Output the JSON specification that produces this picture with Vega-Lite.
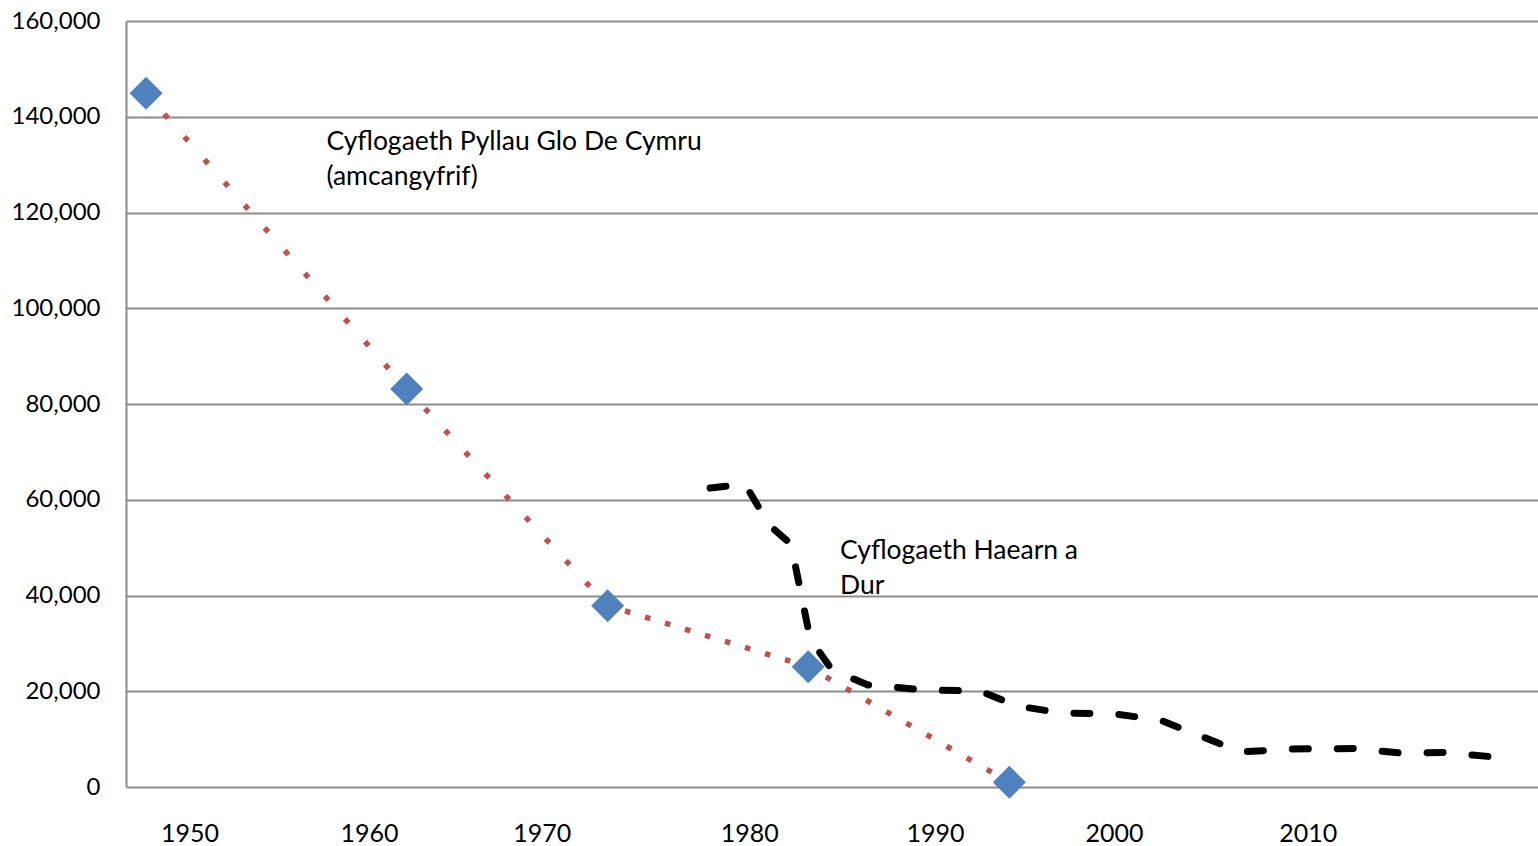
{
  "$schema": "https://vega.github.io/schema/vega-lite/v6.json",
  "autosize": {"type": "none"},
  "width": 1412,
  "height": 766,
  "padding": {"left": 126, "top": 21, "right": 0, "bottom": 59},
  "background": "white",
  "config": {"view": {"stroke": null}, "font": "Lato"},
  "datasets": {
    "coal": [
      {"year": 1948.07, "jobs": 144898},
      {"year": 1961.99, "jobs": 83134},
      {"year": 1972.72, "jobs": 37870},
      {"year": 1983.43, "jobs": 25128},
      {"year": 1994.17, "jobs": 982}
    ],
    "coalSegments": [
      {"seg": "a", "year": 1948.07, "jobs": 144898},
      {"seg": "a", "year": 1961.99, "jobs": 83134},
      {"seg": "b", "year": 1961.99, "jobs": 83134},
      {"seg": "b", "year": 1972.72, "jobs": 37870},
      {"seg": "c", "year": 1972.72, "jobs": 37870},
      {"seg": "c", "year": 1983.43, "jobs": 25128},
      {"seg": "d", "year": 1983.43, "jobs": 25128},
      {"seg": "d", "year": 1994.17, "jobs": 982}
    ],
    "steel": [
      {"year": 1978.19, "jobs": 62455},
      {"year": 1980.05, "jobs": 63290},
      {"year": 1981.34, "jobs": 54727},
      {"year": 1982.51, "jobs": 50758},
      {"year": 1983.53, "jobs": 31020},
      {"year": 1984.70, "jobs": 24439},
      {"year": 1986.62, "jobs": 21306},
      {"year": 1989.67, "jobs": 20261},
      {"year": 1992.60, "jobs": 20052},
      {"year": 1994.58, "jobs": 16919},
      {"year": 1996.98, "jobs": 15457},
      {"year": 1999.81, "jobs": 15248},
      {"year": 2002.21, "jobs": 13995},
      {"year": 2006.54, "jobs": 7311},
      {"year": 2009.16, "jobs": 7937},
      {"year": 2012.63, "jobs": 8042},
      {"year": 2015.03, "jobs": 7102},
      {"year": 2017.43, "jobs": 7206},
      {"year": 2020.10, "jobs": 6266}
    ],
    "notes": [
      {"year": 1957.70, "jobs": 133056, "label": ["Cyflogaeth Pyllau Glo De Cymru", "(amcangyfrif)"]},
      {"year": 1985.13, "jobs": 47625, "label": ["Cyflogaeth Haearn a", "Dur"]}
    ]
  },
  "encoding": {
    "x": {
      "field": "year",
      "type": "quantitative",
      "scale": {"domain": [1947, 2022.4], "nice": false, "zero": false},
      "axis": {
        "title": null,
        "grid": false,
        "ticks": false,
        "tickSize": 0,
        "domain": false,
        "values": [1950.39, 1959.98, 1969.20, 1980.28, 1990.20, 1999.76, 2010.11],
        "labelExpr": "format(round(datum.value / 10) * 10, 'd')",
        "labelFont": "Lato",
        "labelFontSize": 25,
        "labelColor": "#000000",
        "labelBaseline": "alphabetic",
        "labelPadding": 54,
        "labelFlush": false,
        "labelOverlap": false
      }
    },
    "y": {
      "field": "jobs",
      "type": "quantitative",
      "scale": {"domain": [0, 160000], "nice": false},
      "axis": {
        "title": null,
        "values": [0, 20000, 40000, 60000, 80000, 100000, 120000, 140000, 160000],
        "format": ",.0f",
        "grid": true,
        "gridColor": "#8c8c8c",
        "gridWidth": 2,
        "gridOpacity": 1,
        "ticks": false,
        "tickSize": 0,
        "domain": true,
        "domainColor": "#8c8c8c",
        "domainWidth": 2,
        "labelFont": "Lato",
        "labelFontSize": 24,
        "labelColor": "#000000",
        "labelPadding": 26,
        "labelFlush": false
      }
    }
  },
  "layer": [
    {
      "data": {"name": "coalSegments"},
      "mark": {"type": "line", "color": "#C0504D", "strokeWidth": 5.5, "strokeCap": "butt", "strokeDashOffset": 2.75},
      "encoding": {
        "strokeDash": {
          "field": "seg",
          "type": "nominal",
          "scale": {"domain": ["a", "b", "c", "d"], "range": [[5.5, 24.85], [5.5, 24.1], [5.5, 15.4], [5.5, 17.7]]},
          "legend": null
        }
      }
    },
    {
      "data": {"name": "coal"},
      "mark": {"type": "point", "shape": "diamond", "filled": true, "color": "#4F81BD", "opacity": 1, "size": 1089}
    },
    {
      "data": {"name": "steel"},
      "mark": {"type": "line", "color": "#000000", "strokeWidth": 7, "strokeCap": "round", "strokeJoin": "round", "strokeDash": [16, 29]}
    },
    {
      "data": {"name": "notes"},
      "mark": {"type": "text", "align": "left", "baseline": "alphabetic", "font": "Lato", "fontSize": 26.5, "lineHeight": 35, "color": "#000000"},
      "encoding": {"text": {"field": "label"}}
    }
  ]
}
